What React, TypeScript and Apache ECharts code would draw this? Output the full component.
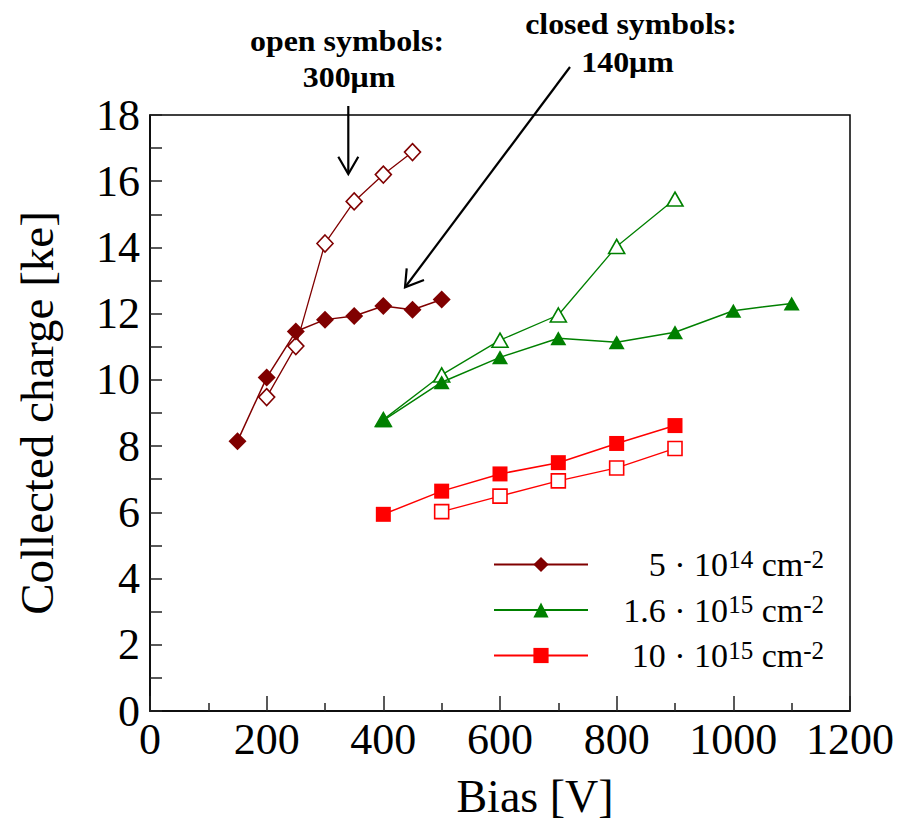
import React, { useEffect, useRef } from "react";
import * as echarts from "echarts";

// ---- data ----
const biasDiamondClosed = [150, 200, 250, 300, 350, 400, 450, 500];
const charge5e14Closed = [8.15, 10.07, 11.46, 11.82, 11.93, 12.23, 12.12, 12.43];
const biasDiamondOpen = [200, 250, 300, 350, 400, 450];
const charge5e14Open = [9.48, 11.02, 14.12, 15.39, 16.2, 16.88];

const biasTriangleClosed = [400, 500, 600, 700, 800, 900, 1000, 1100];
const charge16e15Closed = [8.78, 9.93, 10.68, 11.26, 11.14, 11.44, 12.09, 12.31];
const biasTriangleOpen = [400, 500, 600, 700, 800, 900];
const charge16e15Open = [8.8, 10.15, 11.2, 11.96, 14.03, 15.46];

const biasSquareClosed = [400, 500, 600, 700, 800, 900];
const charge1e16Closed = [5.94, 6.64, 7.16, 7.5, 8.08, 8.62];
const biasSquareOpen = [500, 600, 700, 800, 900];
const charge1e16Open = [6.02, 6.49, 6.95, 7.34, 7.93];

const legendNames = ["5 · 10^14 cm^-2", "1.6 · 10^15 cm^-2", "10 · 10^15 cm^-2"];
const legendRich = [
  "{n|5 · 10}{s|14}{n| cm}{s|-2}",
  "{n|1.6 · 10}{s|15}{n| cm}{s|-2}",
  "{n|10 · 10}{s|15}{n| cm}{s|-2}",
];

const xTicks = { min: 0, max: 1200, interval: 200 };
const yTicks = { min: 0, max: 18, interval: 2 };

const FONT = '"Liberation Serif", "Times New Roman", serif';

const pairs = (xs: number[], ys: number[]) => xs.map((x, i) => [x, ys[i]]);

export default function App() {
  const ref = useRef<HTMLDivElement>(null);
  useEffect(() => {
    document.body.style.margin = "0";
    if (!ref.current) return;
    const chart = echarts.init(ref.current, undefined, { renderer: "svg" });

    const DR = "#800000";
    const GR = "#008000";
    const RD = "#ff0000";

    const closed = (name: string, xs: number[], ys: number[], color: string, symbol: string, size: number[]) => ({
      name,
      type: "line",
      data: pairs(xs, ys),
      symbol,
      symbolSize: size,
      showSymbol: true,
      itemStyle: { color },
      lineStyle: { color, width: 1.5 },
      z: 3,
    });
    const open = (name: string, xs: number[], ys: number[], color: string, symbol: string, size: number[]) => ({
      name,
      type: "line",
      data: pairs(xs, ys),
      symbol,
      symbolSize: size,
      showSymbol: true,
      itemStyle: { color: "#ffffff", borderColor: color, borderWidth: 1.6 },
      lineStyle: { color, width: 1.3 },
      z: 2,
    });

    const annot = (text: string, x: number, y: number) => ({
      type: "text",
      x,
      y,
      scaleX: 1.1,
      style: { text, font: `bold 29px ${FONT}`, fill: "#000", align: "center", verticalAlign: "middle" },
    });

    const option: any = {
      animation: false,
      backgroundColor: "#ffffff",
      grid: { left: 150, right: 53, top: 115, bottom: 118, show: true, borderColor: "#000", borderWidth: 1.5, backgroundColor: "transparent", outerBoundsMode: "none" },
      xAxis: {
        type: "value",
        min: xTicks.min,
        max: xTicks.max,
        interval: xTicks.interval,
        name: "Bias [V]",
        nameLocation: "middle",
        nameGap: 62,
        nameTextStyle: { fontFamily: FONT, fontSize: 46, color: "#000", padding: [0, 0, 0, 70] },
        axisLine: { show: true, lineStyle: { color: "#000", width: 1.5 } },
        axisTick: { show: true, inside: true, length: 15, lineStyle: { color: "#222", width: 1.5 } },
        minorTick: { show: true, splitNumber: 2, length: 8, lineStyle: { color: "#222", width: 1.5 } },
        splitLine: { show: false },
        axisLabel: { fontFamily: FONT, fontSize: 44, color: "#000", margin: 6, formatter: (v: number) => String(v) },
      },
      yAxis: {
        type: "value",
        min: yTicks.min,
        max: yTicks.max,
        interval: yTicks.interval,
        name: "Collected charge [ke]",
        nameLocation: "middle",
        nameGap: 90,
        nameTextStyle: { fontFamily: FONT, fontSize: 47, color: "#000" },
        axisLine: { show: true, lineStyle: { color: "#000", width: 1.5 } },
        axisTick: { show: true, inside: true, length: 12, lineStyle: { color: "#222", width: 1.5 } },
        minorTick: { show: true, splitNumber: 2, length: 12, lineStyle: { color: "#222", width: 1.5 } },
        splitLine: { show: false },
        axisLabel: { fontFamily: FONT, fontSize: 44, color: "#000", margin: 10, formatter: (v: number) => String(v) },
      },
      legend: {
        orient: "vertical",
        left: 493,
        top: 546.5,
        padding: 0,
        itemWidth: 94,
        itemHeight: 19,
        itemGap: 10.5,
        selectedMode: false,
        data: legendNames,
        formatter: (name: string) => legendRich[legendNames.indexOf(name)],
        textStyle: {
          fontFamily: FONT,
          color: "#000",
          width: 231,
          rich: {
            n: { fontFamily: FONT, fontSize: 34, lineHeight: 36, align: "right", color: "#000" },
            s: { fontFamily: FONT, fontSize: 25, lineHeight: 12, verticalAlign: "top", align: "right", color: "#000" },
          },
        },
      },
      series: [
        open("5e14 open (300 μm)", biasDiamondOpen, charge5e14Open, DR, "diamond", [16, 17]),
        open("1.6e15 open (300 μm)", biasTriangleOpen, charge16e15Open, GR, "triangle", [16, 14]),
        open("1e16 open (300 μm)", biasSquareOpen, charge1e16Open, RD, "rect", [14, 14]),
        closed(legendNames[0], biasDiamondClosed, charge5e14Closed, DR, "diamond", [18, 18]),
        closed(legendNames[1], biasTriangleClosed, charge16e15Closed, GR, "triangle", [16, 14]),
        closed(legendNames[2], biasSquareClosed, charge1e16Closed, RD, "rect", [15, 15]),
      ],
      graphic: [
        annot("open symbols:", 347, 41),
        annot("300μm", 349, 77.5),
        annot("closed symbols:", 631, 24),
        annot("140μm", 627.5, 62),
        { type: "line", shape: { x1: 348.3, y1: 106, x2: 348.3, y2: 173 }, style: { stroke: "#000", lineWidth: 2.2 } },
        { type: "polyline", shape: { points: [[338.3, 156.7], [348.3, 174], [358.3, 156.7]] }, style: { stroke: "#000", lineWidth: 2.2, fill: "none" } },
        { type: "line", shape: { x1: 570, y1: 67, x2: 406, y2: 286 }, style: { stroke: "#000", lineWidth: 2.2 } },
        { type: "polyline", shape: { points: [[406.7, 268.3], [405, 287.3], [424, 280]] }, style: { stroke: "#000", lineWidth: 2.2, fill: "none" } },
      ],
    };
    chart.setOption(option);
    return () => chart.dispose();
  }, []);
  return <div ref={ref} style={{ width: 903, height: 829 }} />;
}
